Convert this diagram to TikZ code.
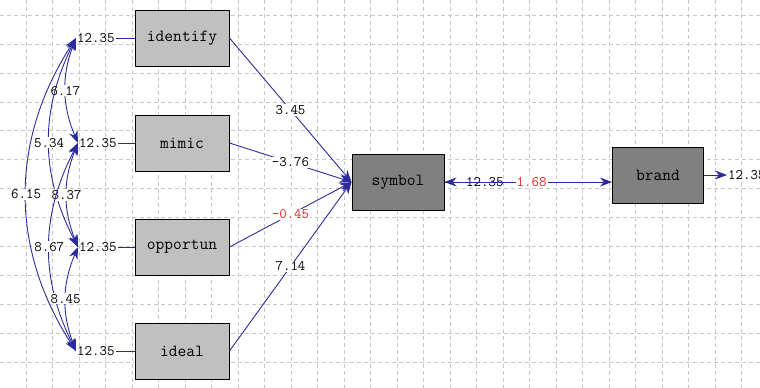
\documentclass[tikz,border=0pt]{standalone}
\usepackage{fontspec}
\usetikzlibrary{arrows.meta}
\definecolor{lnblue}{HTML}{2B2B9E}
\definecolor{lightbox}{HTML}{C0C0C0}
\definecolor{darkbox}{HTML}{808080}
\definecolor{gridgray}{HTML}{C8C8C8}
\definecolor{numred}{HTML}{F02020}
\begin{document}
\begin{tikzpicture}[x=1pt,y=-1pt,>={Stealth[length=12pt,width=9pt]},line join=round,
	var/.style={draw=black,line width=1pt,fill=lightbox,minimum width=94pt,minimum height=56pt,font=\ttfamily\fontsize{17}{17}\selectfont},
	latent/.style={var,fill=darkbox},
	num/.style={font=\ttfamily\fontsize{14.5}{14.5}\selectfont,inner sep=1pt},
	link/.style={draw=lnblue,line width=0.9pt}]
	\useasboundingbox (0,0) rectangle (760,388);
	% grid
	\foreach \gx in {1,...,28} \draw[gridgray,dash pattern=on 4pt off 3pt] ({-0.8+26.5*\gx},0)--({-0.8+26.5*\gx},388);
	\foreach \gy in {0,...,12} \draw[gridgray,dash pattern=on 4pt off 3pt] (0,{15+28.9*\gy})--(760,{15+28.9*\gy});
	% observed variables
	\node[var] (identify) at (182,38) {identify};
	\node[var] (mimic) at (182,143) {mimic};
	\node[var] (opportun) at (182,247) {opportun};
	\node[var] (ideal) at (182,351) {ideal};
	\node[latent,minimum width=92pt] (symbol) at (398,182) {symbol};
	\node[latent,minimum width=91pt] (brand) at (658,175) {brand};
	% error terms
	\node[num,anchor=west] (e1) at (76,38) {12.35};
	\node[num,anchor=west] (e2) at (78,143) {12.35};
	\node[num,anchor=west] (e3) at (78,247) {12.35};
	\node[num,anchor=west] (e4) at (76,351) {12.35};
	\node[num,anchor=west] (e5) at (465,182) {12.35};
	\node[num,anchor=west] (e6) at (727,175) {12.35};
	\foreach \e/\v in {e1/identify,e2/mimic,e3/opportun,e4/ideal} \draw[link] (\e)--(\v);
	% covariances
	\draw[link,<->] (e1.west) to[bend right=22] node[num,fill=white]{6.17} (e2.west);
	\draw[link,<->] (e1.west) to[bend right=27] node[num,fill=white]{5.34} (e3.west);
	\draw[link,<->] (e1.west) to[bend right=33] node[num,fill=white]{6.15} (e4.west);
	\draw[link,<->] (e2.west) to[bend right=22] node[num,fill=white]{8.37} (e3.west);
	\draw[link,<->] (e2.west) to[bend right=27] node[num,fill=white]{8.67} (e4.west);
	\draw[link,<->] (e3.west) to[bend right=22] node[num,fill=white]{8.45} (e4.west);
	% paths
	\draw[link,->] (identify.east)--(symbol.west) node[num,midway,fill=white]{3.45};
	\draw[link,->] (mimic.east)--(symbol.west) node[num,midway,fill=white]{-3.76};
	\draw[link,->] (opportun.east)--(symbol.west) node[num,midway,fill=white,text=numred]{-0.45};
	\draw[link,->] (ideal.east)--(symbol.west) node[num,midway,fill=white]{7.14};
	\draw[link,->] (symbol.east)--(symbol.east-|brand.west) node[num,pos=0.52,fill=white,text=numred]{1.68};
	\draw[link,->] (e5)--(symbol);
	\draw[link,->] (brand)--(e6);
\end{tikzpicture}
\end{document}
